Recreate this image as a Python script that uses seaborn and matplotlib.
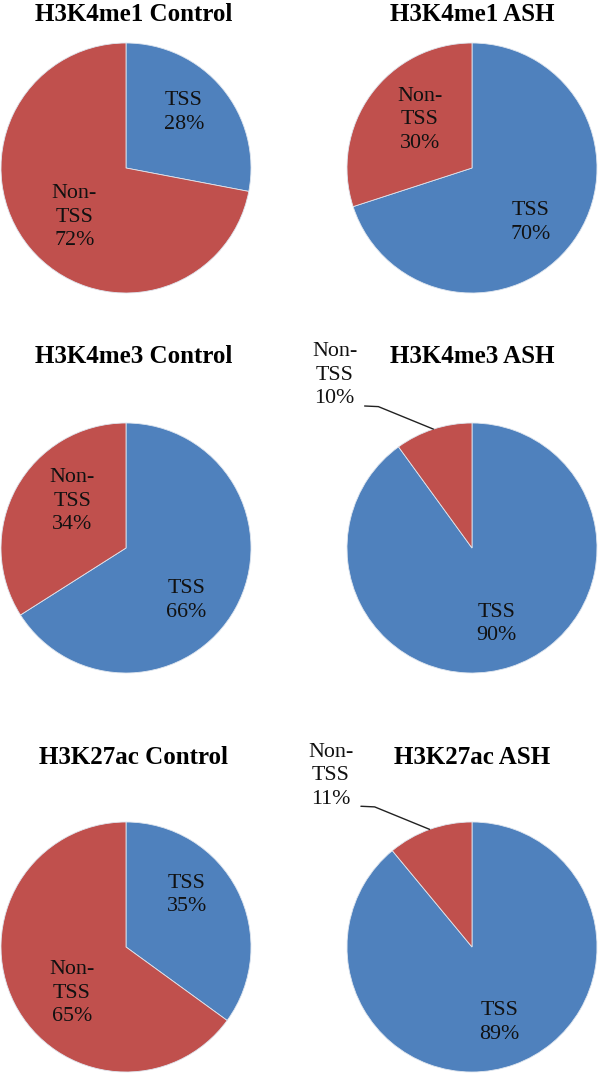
import numpy as np
import matplotlib
matplotlib.use("Agg")
import matplotlib.pyplot as plt
import seaborn as sns

# ---------------- data ----------------
titles = ["H3K4me1 Control", "H3K4me1 ASH",
          "H3K4me3 Control", "H3K4me3 ASH",
          "H3K27ac Control", "H3K27ac ASH"]
categories = ["TSS", "Non-\nTSS"]
tss_pct = [28, 70, 66, 90, 35, 89]
non_tss_pct = [72, 30, 34, 10, 65, 11]

# ---------------- style ----------------
sns.set_theme(style="white")
plt.rcParams["font.family"] = ["Liberation Serif", "DejaVu Serif"]
palette = sns.color_palette(["#4F81BD", "#C0504D"])

W, H = 600, 1074
R = 125
col_x = [126, 472]
row_y = [168, 548, 947]
title_dy = [1.23, 1.53, 1.52]
title_dx = [0.06, 0.0]

fig = plt.figure(figsize=(W / 100, H / 100), dpi=100)
fig.patch.set_facecolor("white")

text_color = "#111111"


def best_fit_angle(mid_deg):
    """Excel-like 'best fit': pull label angle toward nearest diagonal."""
    diag = 45 + 90 * np.floor(mid_deg / 90.0)
    cands = np.array([diag, diag + 90, diag - 90])
    d = cands[np.argmin(np.abs(cands - mid_deg))]
    if abs(d - mid_deg) < 22:
        return mid_deg + 0.75 * (d - mid_deg)
    return mid_deg


for i, title in enumerate(titles):
    r, c = divmod(i, 2)
    cx, cy = col_x[c], row_y[r]
    ax = fig.add_axes([(cx - R) / W, (H - cy - R) / H, 2 * R / W, 2 * R / H])
    vals = [tss_pct[i], non_tss_pct[i]]
    wedges, _ = ax.pie(vals, colors=palette, startangle=90, counterclock=False,
                       radius=1.0,
                       wedgeprops=dict(edgecolor="#dfe6ef", linewidth=0.6))
    ax.set_xlim(-1, 1)
    ax.set_ylim(-1, 1)
    ax.set_aspect("equal")
    ax.axis("off")

    for w, lab, v in zip(wedges, categories, vals):
        mid_deg = (w.theta1 + w.theta2) / 2
        txt = f"{lab}\n{v}%"
        if v >= 15:
            ang = np.deg2rad(best_fit_angle(mid_deg))
            rr = 0.64 if "\n" not in lab else 0.57
            ax.text(rr * np.cos(ang), rr * np.sin(ang), txt, ha="center",
                    va="center", fontsize=15.8, linespacing=1.33,
                    color=text_color)
        else:
            mid = np.deg2rad(mid_deg)
            ex, ey = np.cos(mid), np.sin(mid)
            # leader line: slice edge -> elbow -> horizontal stub
            xs = [ex, ex - 0.44, ex - 0.55]
            ys = [ey, ey + 0.18, ey + 0.185]
            ax.plot(xs, ys, color="#222222", lw=1.0, clip_on=False)
            ax.text(ex - 0.79, ey + 0.43, txt, ha="center", va="center",
                    fontsize=15.8, linespacing=1.33, color=text_color)

    ax.text(title_dx[c], title_dy[r], title, ha="center", va="center",
            fontsize=18, fontweight="bold", color="#000000")

fig.savefig("out.png", dpi=100, facecolor="white")
